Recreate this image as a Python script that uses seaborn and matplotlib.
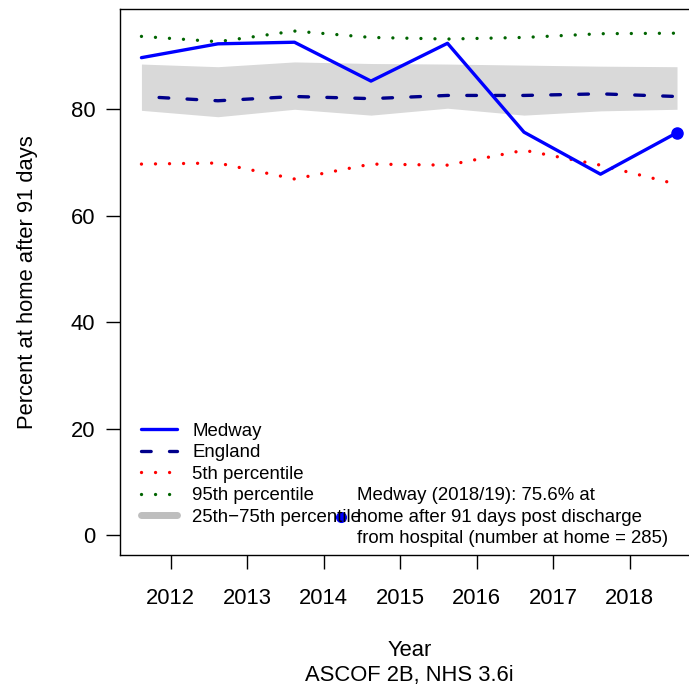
import matplotlib
matplotlib.use("Agg")
import matplotlib.pyplot as plt
from matplotlib.lines import Line2D
import seaborn as sns

# data (financial years 2011/12 .. 2018/19)
year_pos = [2011.62, 2012.62, 2013.62, 2014.62, 2015.62, 2016.62, 2017.62, 2018.62]
medway = [89.7, 92.3, 92.6, 85.3, 92.4, 75.7, 67.8, 75.6]
england = [82.4, 81.6, 82.4, 82.0, 82.6, 82.6, 82.9, 82.4]
pct5 = [69.7, 69.9, 66.9, 69.7, 69.5, 72.3, 69.5, 65.9]
pct95 = [93.7, 92.7, 94.7, 93.5, 93.2, 93.5, 94.2, 94.3]
pct25 = [79.8, 78.6, 80.0, 78.9, 80.2, 78.9, 79.7, 80.0]
pct75 = [88.5, 88.0, 88.9, 88.6, 88.5, 88.3, 88.1, 88.0]
tick_years = [2012, 2013, 2014, 2015, 2016, 2017, 2018]
y_ticks = [0, 20, 40, 60, 80]

legend_labels = ["Medway", "England", "5th percentile", "95th percentile",
                 "25th\u221275th percentile"]
note = ("Medway (2018/19): 75.6% at\n"
        "home after 91 days post discharge\n"
        "from hospital (number at home = 285)")

sns.set_style("ticks")
plt.rcParams["font.family"] = ["Liberation Sans", "DejaVu Sans"]
plt.rcParams["text.color"] = "black"
plt.rcParams["axes.labelcolor"] = "black"
plt.rcParams["xtick.color"] = "black"
plt.rcParams["ytick.color"] = "black"

FS = 15.8
LFS = 13.4
LW = 2.4
DASH = (3.1, (2.9, 5.5))
DOT = (0, (0.01, 4.2))

fig = plt.figure(figsize=(6.89, 6.90), dpi=100)
ax = fig.add_axes([0.1742, 0.1954, 0.8395, 0.7909])

ax.fill_between(year_pos, pct25, pct75, color="#D9D9D9", linewidth=0)
sns.lineplot(x=year_pos, y=pct5, ax=ax, color="red", lw=LW, linestyle=DOT,
             dash_capstyle="round")
sns.lineplot(x=year_pos, y=pct95, ax=ax, color="darkgreen", lw=LW, linestyle=DOT,
             dash_capstyle="round")
sns.lineplot(x=year_pos, y=england, ax=ax, color="darkblue", lw=LW, linestyle=DASH,
             dash_capstyle="round")
sns.lineplot(x=year_pos, y=medway, ax=ax, color="blue", lw=LW,
             solid_capstyle="round", solid_joinstyle="round")
ax.plot(year_pos[-1], medway[-1], "o", color="blue", ms=8)

ax.set_xlim(2011.34, 2018.90)
ax.set_ylim(-3.8, 98.76)
ax.set_xticks(tick_years)
ax.set_xticklabels([str(y) for y in tick_years])
ax.set_yticks(y_ticks)
ax.tick_params(axis="both", length=10.3, width=1.0, labelsize=FS)
ax.tick_params(axis="x", pad=13)
ax.tick_params(axis="y", pad=7.5)
for s in ax.spines.values():
    s.set_visible(True)
    s.set_linewidth(1.0)
    s.set_color("black")

ax.set_ylabel("Percent at home after 91 days", fontsize=FS)
ax.yaxis.set_label_coords(-0.142, 0.5)
ax.set_xlabel("Year\nASCOF 2B, NHS 3.6i", fontsize=FS, linespacing=1.25)
ax.xaxis.set_label_coords(0.5, -0.156)

handles = [
    Line2D([], [], color="blue", lw=LW, solid_capstyle="round"),
    Line2D([], [], color="darkblue", lw=LW, linestyle=(0, (2.9, 5.5)),
           dash_capstyle="round"),
    Line2D([], [], color="red", lw=LW, linestyle=DOT, dash_capstyle="round"),
    Line2D([], [], color="darkgreen", lw=LW, linestyle=DOT, dash_capstyle="round"),
    Line2D([], [], color="#BEBEBE", lw=5, solid_capstyle="round"),
]
ax.legend(handles, legend_labels, loc="lower left", bbox_to_anchor=(0.036, 0.054),
          frameon=False, fontsize=LFS, handlelength=1.95, handletextpad=0.81,
          labelspacing=0.24, borderpad=0, borderaxespad=0)

# point legend for the latest value
ax.plot([0.3817], [0.0697], "o", color="blue", ms=7, transform=ax.transAxes,
        clip_on=False)
ax.text(0.4093, 0.0697, note, transform=ax.transAxes, fontsize=LFS,
        ha="left", va="center", linespacing=1.32)

fig.savefig("out.png", dpi=100)
